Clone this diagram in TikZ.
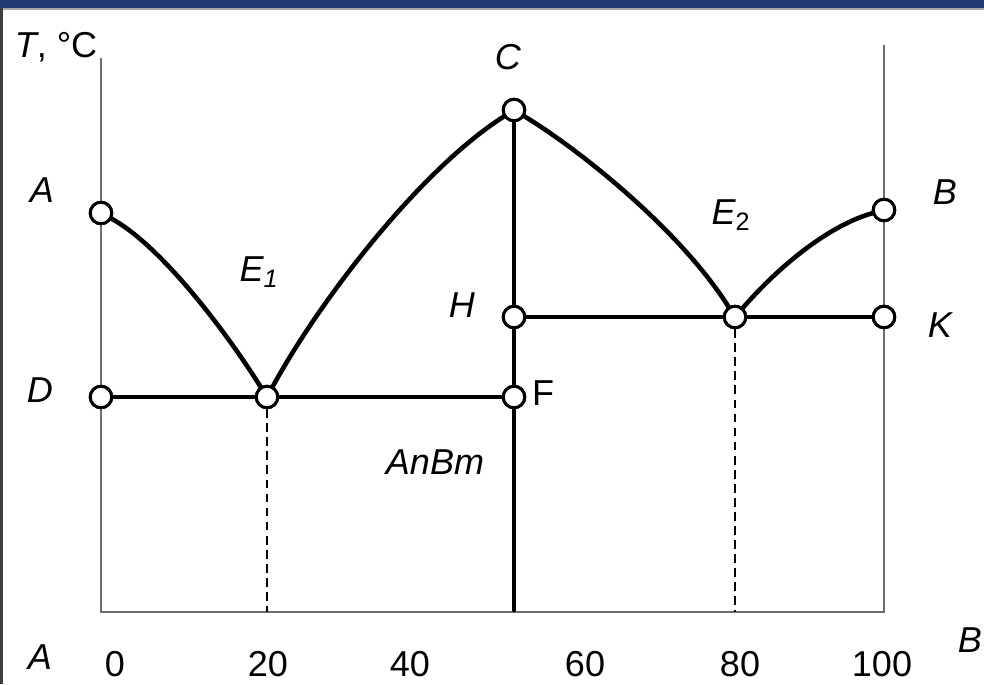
\documentclass[tikz,border=0pt]{standalone}
\usepackage{fontspec}
\setmainfont{Liberation Sans}
\usepackage{xcolor}
\usetikzlibrary{positioning, calc}

\definecolor{barblue}{HTML}{1F3A70}
\definecolor{axisgray}{HTML}{6E6E6E}

\begin{document}
\begin{tikzpicture}[
  x={(0.02cm,0)}, y={(0,-0.02cm)},
  pt/.style={circle, draw, line width=1.7pt, fill=white, inner sep=0pt, minimum size=0.43cm},
  curve/.style={line width=2.6pt, line cap=round},
  axisline/.style={draw=axisgray, line width=1.4pt},
  guide/.style={line width=0.7pt, dash pattern=on 5pt off 3pt},
  lbl/.style={font=\fontsize{20.5}{24}\selectfont\itshape},
  num/.style={font=\fontsize{20.5}{24}\selectfont}
]
\useasboundingbox (0,0) rectangle (984,684);
\fill[barblue] (0,0) rectangle (984,8);
\draw[axisgray!60, line width=0.6pt] (0,9) -- (984,9);
\draw[black!75, line width=1.6pt] (1.5,8) -- (1.5,684);

% axes
\coordinate (lt) at (101,58);
\coordinate (o) at (101,612);
\coordinate (e) at (884,612);
\coordinate (rt) at (884,45);
\draw[axisline] (lt) -- (o) -- (e) -- (rt);

% points of the diagram
\node[pt] (pA) at (101,213) {};
\node[pt] (pD) at (101,397) {};
\node[pt] (pE1) at (267,397) {};
\node[pt] (pC) at (514,110) {};
\node[pt] (pH) at (514,317) {};
\node[pt] (pF) at (514,397) {};
\node[pt] (pE2) at (735,317) {};
\node[pt] (pK) at (884,317) {};
\node[pt] (pB) at (884,210) {};
\coordinate (bE1) at (267,612);
\coordinate (bC) at (514,610);
\coordinate (bE2) at (735,612);

% liquidus curves
\draw[curve] (pA) .. controls (160,245) and (225,330) .. (pE1);
\draw[curve] (pE1) .. controls (320,300) and (420,170) .. (pC);
\draw[curve] (pC) .. controls (580,150) and (680,230) .. (pE2);
\draw[curve] (pE2) .. controls (780,265) and (830,225) .. (pB);

% solidus lines
\draw[curve] (pD) -- (pE1) -- (pF);
\draw[curve] (pH) -- (pE2) -- (pK);
\draw[curve] (pC) -- (pH) -- (pF) -- (bC);

% eutectic compositions
\draw[guide] (pE1) -- (bE1);
\draw[guide] (pE2) -- (bE2);

% redraw points on top
\foreach \p in {pA,pD,pE1,pC,pH,pF,pE2,pK,pB}
  \node[pt] at (\p) {};

% labels
\node[num] (tlab) at (56,47) {\textit{T}, °C};
\node[lbl] (lA) at (42,190) {A};
\node[lbl] (lC) at (508,57) {C};
\node[lbl] (lB) at (945,192) {B};
\node[lbl] (lE1) at (259,272) {E\textsubscript{1}};
\node[lbl] (lE2) at (731,215) {E\textsubscript{\upshape 2}};
\node[lbl] (lH) at (462,305) {H};
\node[lbl] (lK) at (940,325) {K};
\node[lbl] (lD) at (40,390) {D};
\node[num] (lF) at (543,393) {F};
\node[lbl] (lAB) at (435,462) {AnBm};
\node[lbl] (xA) at (40,657) {A};
\node[lbl] (xB) at (970,640) {B};

% composition scale
\foreach \v/\px in {0/115,20/268,40/410,60/585,80/740,100/882}
  \node[num] (n\v) at (\px,664) {\v};
\end{tikzpicture}
\end{document}
